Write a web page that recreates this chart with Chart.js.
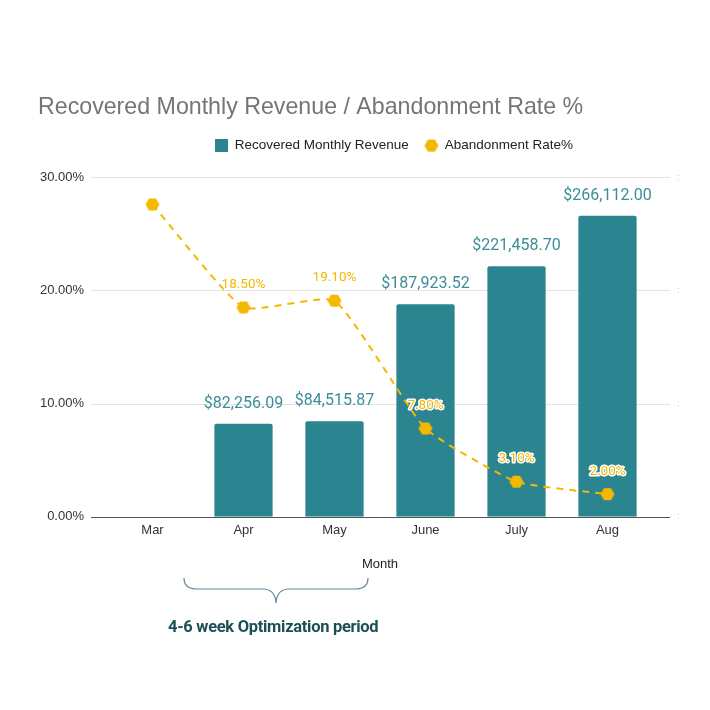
<!DOCTYPE html>
<html>
<head>
<meta charset="utf-8">
<script src="https://cdn.jsdelivr.net/npm/chart.js@4/dist/chart.umd.min.js"></script>
<style>
  body { margin: 0; background: #fff; }
  .wrap { position: relative; width: 710px; height: 710px; }
  .brace { position: absolute; left: 183px; top: 577px; }
  .note {
    position: absolute; left: 168px; top: 617px;
    font-family: "Roboto", sans-serif;
    font-weight: bold; font-size: 16.5px; letter-spacing: -0.3px; color: #1b4f55;
  }
</style>
</head>
<body>
<div class="wrap">
  <canvas id="chart" width="710" height="710"></canvas>
  <svg class="brace" width="186" height="28" viewBox="0 0 186 28">
    <path d="M1 1 Q1 12 14 12 L80 12 Q92 12 93 26 Q94 12 106 12 L172 12 Q185 12 185 1"
          fill="none" stroke="#5f8a96" stroke-width="1.2"/>
  </svg>
  <div class="note">4-6 week Optimization period</div>
</div>
<script>
const months = ["Mar", "Apr", "May", "June", "July", "Aug"];
const revenue = [null, 82256.09, 84515.87, 187923.52, 221458.70, 266112.00];
const abandonRate = [27.6, 18.5, 19.1, 7.8, 3.1, 2.0];
const showRateLabel = [false, true, true, true, true, true];
const rateTicks = [0, 10, 20, 30];
const revenueTicks = [0, 100000, 200000, 300000];

const teal = "#2b8591";
const yellow = "#f5b800";
const font = "Liberation Sans, Arial, sans-serif";

// hexagon marker
function hexagon(r) {
  const c = document.createElement("canvas");
  c.width = r * 2 + 2;
  c.height = r * 2 + 2;
  const g = c.getContext("2d");
  g.beginPath();
  for (let i = 0; i < 6; i++) {
    const a = Math.PI / 3 * i;
    const px = r + 1 + r * Math.cos(a);
    const py = r + 1 + r * Math.sin(a);
    if (i === 0) g.moveTo(px, py); else g.lineTo(px, py);
  }
  g.closePath();
  g.fillStyle = yellow;
  g.fill();
  return c;
}
const hex = hexagon(7);

const money = v => "$" + v.toLocaleString("en-US", { minimumFractionDigits: 2, maximumFractionDigits: 2 });

// grid lines a bit wider than the category band, like the sheets chart
const wideGrid = {
  id: "wideGrid",
  beforeInit(chart) {
    const fit = chart.legend.fit;
    chart.legend.fit = function () { fit.call(this); this.height += 15; };
  },
  afterLayout(chart) {
    chart.legend.left += 70;
  },
  beforeDatasetsDraw(chart) {
    const { ctx, chartArea } = chart;
    const y = chart.scales.y;
    ctx.save();
    rateTicks.forEach(v => {
      const py = Math.round(y.getPixelForValue(v)) + 0.5;
      ctx.strokeStyle = v === 0 ? "#555" : "#e3e3e3";
      ctx.lineWidth = 1;
      ctx.beginPath();
      ctx.moveTo(chartArea.left - 16, py);
      ctx.lineTo(chartArea.right + 17, py);
      ctx.stroke();
    });
    ctx.restore();
  }
};

const valueLabels = {
  id: "valueLabels",
  afterDatasetsDraw(chart) {
    const ctx = chart.ctx;
    ctx.save();
    ctx.textAlign = "center";
    ctx.textBaseline = "middle";
    ctx.font = "16px Roboto, sans-serif";
    chart.getDatasetMeta(0).data.forEach((el, i) => {
      if (revenue[i] == null) return;
      ctx.fillStyle = "#3d8d97";
      ctx.fillText(money(revenue[i]), el.x, el.y - 20);
    });
    ctx.font = "13.5px Roboto, sans-serif";
    chart.getDatasetMeta(1).data.forEach((el, i) => {
      if (!showRateLabel[i]) return;
      const t = abandonRate[i].toFixed(2) + "%";
      ctx.lineWidth = 3;
      ctx.strokeStyle = "#fff";
      ctx.lineJoin = "round";
      ctx.strokeText(t, el.x, el.y - 23);
      ctx.fillStyle = yellow;
      ctx.fillText(t, el.x, el.y - 23);
    });
    ctx.restore();
  }
};

new Chart(document.getElementById("chart"), {
  type: "bar",
  data: {
    labels: months,
    datasets: [
      {
        label: "Recovered Monthly Revenue",
        data: revenue,
        yAxisID: "y1",
        backgroundColor: teal,
        borderRadius: 2,
        barPercentage: 0.8,
        categoryPercentage: 0.8,
        pointStyle: "rect",
        order: 1
      },
      {
        type: "line",
        label: "Abandonment Rate%",
        data: abandonRate,
        yAxisID: "y",
        borderColor: yellow,
        borderWidth: 2,
        borderDash: [7, 6],
        tension: 0.15,
        pointStyle: hex,
        pointRadius: 7,
        backgroundColor: yellow,
        order: 0
      }
    ]
  },
  options: {
    responsive: false,
    animation: false,
    layout: { padding: { top: 94, left: 38, right: 30, bottom: 134 } },
    plugins: {
      title: {
        display: true,
        text: "Recovered Monthly Revenue / Abandonment Rate %",
        align: "start",
        color: "#757575",
        font: { family: font, size: 23.2, weight: "normal" },
        padding: { top: 0, bottom: 1 }
      },
      legend: {
        labels: {
          usePointStyle: true,
          boxWidth: 13,
          boxHeight: 13,
          color: "#222",
          font: { family: font, size: 13.5 },
          padding: 16,
          sort: (a, b) => a.datasetIndex - b.datasetIndex
        }
      },
      tooltip: { enabled: false }
    },
    scales: {
      x: {
        grid: { display: false, drawTicks: false },
        border: { display: false },
        ticks: { color: "#333", font: { family: font, size: 13 }, padding: 6 },
        title: {
          display: true, text: "Month", color: "#222",
          font: { family: font, size: 13 },
          padding: { top: 12 }
        }
      },
      y: {
        min: 0, max: 30,
        afterBuildTicks: s => { s.ticks = rateTicks.map(v => ({ value: v })); },
        afterFit: s => { s.width = 69; },
        grid: { display: false, drawTicks: false },
        border: { display: false },
        ticks: {
          color: "#333", padding: 23,
          font: { family: font, size: 13 },
          callback: v => v.toFixed(2) + "%"
        }
      },
      y1: {
        position: "right",
        min: 0, max: 300000,
        afterBuildTicks: s => { s.ticks = revenueTicks.map(v => ({ value: v })); },
        afterFit: s => { s.width = 27; },
        grid: { display: false, drawTicks: false },
        border: { display: false },
        ticks: { color: "#c8c8c8", font: { size: 9 }, padding: 24, callback: () => ":" }
      }
    }
  },
  plugins: [wideGrid, valueLabels]
});
</script>
</body>
</html>
